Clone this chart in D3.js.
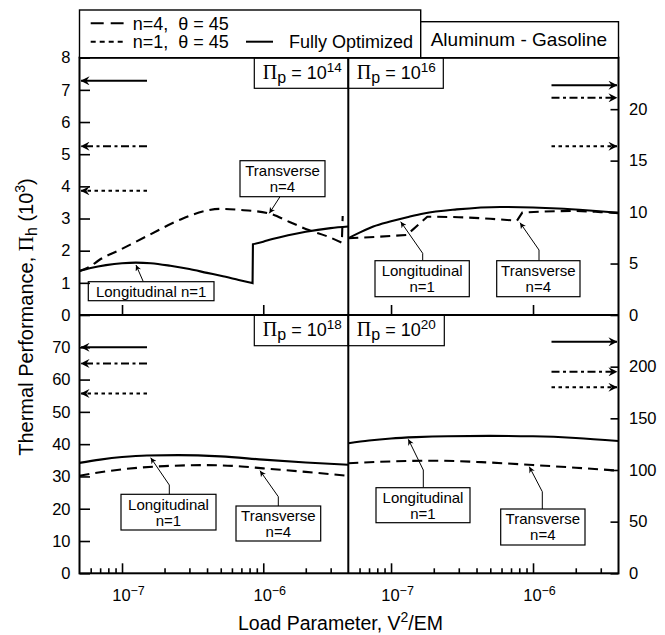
<!DOCTYPE html>
<html lang="en">
<head>
  <meta charset="UTF-8" />
  <title>Aluminum - Gasoline thermal performance</title>
  <script src="https://d3js.org/d3.v7.min.js"></script>
  <style>
    body { margin: 0; background: #fff; }
    svg { font-family: 'Liberation Sans', Arial, Helvetica, sans-serif; fill: #000; }
    .tick text { font-size: 16.5px; }
    .tick line { stroke: #000; stroke-width: 1.6; }
    .domain { display: none; }
    .frame { fill: none; stroke: #000; stroke-width: 2; }
    .box { fill: #fff; stroke: #000; stroke-width: 1.2; }
    .curve { fill: none; stroke: #000; stroke-width: 2.1; }
    .serif { font-family: 'Liberation Serif', 'DejaVu Serif', serif; }
  </style>
</head>
<body>
  <svg id="chart" width="665" height="635"></svg>

  <script>
    // ---- data ----
    const xDomain = [5e-8, 4e-6];
    const xMajorTicks = [1e-7, 1e-6];
    const xMinorTicks = [6e-8, 7e-8, 8e-8, 9e-8, 2e-7, 3e-7, 4e-7, 5e-7, 6e-7, 7e-7, 8e-7, 9e-7, 2e-6, 3e-6];

    // Pi_p = 10^14 (left scale 0-8)
    const tlSolid = [
      [[5e-8, 1.37], [6e-8, 1.46], [7.7e-8, 1.55], [1e-7, 1.61], [1.25e-7, 1.63], [1.6e-7, 1.61],
       [2.2e-7, 1.53], [3e-7, 1.43], [4e-7, 1.31], [5e-7, 1.22], [6.7e-7, 1.09], [8.4e-7, 0.99]],
      [[8.45e-7, 2.2], [1e-6, 2.28], [1.16e-6, 2.36], [1.5e-6, 2.48], [2e-6, 2.59], [3e-6, 2.7], [4e-6, 2.75]]
    ];
    const tlDashed = [
      [[5e-8, 1.37], [5.9e-8, 1.5], [6.9e-8, 1.71], [9.6e-8, 2.02], [1.56e-7, 2.49], [2.54e-7, 2.95],
       [3.9e-7, 3.24], [5e-7, 3.3], [6.7e-7, 3.27], [1.1e-6, 3.16], [1.52e-6, 2.9], [2.1e-6, 2.64],
       [2.9e-6, 2.43], [3.6e-6, 2.25]],
      [[3.65e-6, 3.08]]
    ];
    const tlArrows = [7.28, 5.25, 3.86];

    // Pi_p = 10^16 (right scale 0-25)
    const trSolid = [
      [[5e-8, 7.45], [6e-8, 8.0], [7.5e-8, 8.6], [1e-7, 9.1], [1.3e-7, 9.5], [1.7e-7, 9.87],
       [2.9e-7, 10.26], [5.9e-7, 10.5], [1e-6, 10.45], [1.5e-6, 10.35], [2.5e-6, 10.15], [4e-6, 9.93]]
    ];
    const trDashed = [
      [[5e-8, 7.45], [8e-8, 7.6], [1.29e-7, 7.77]],
      [[1.8e-7, 9.55], [3e-7, 9.5], [5e-7, 9.35], [7.7e-7, 9.16]],
      [[8.4e-7, 9.95], [1.2e-6, 10.05], [2e-6, 10.1], [3e-6, 10.0], [4e-6, 9.9]]
    ];
    const trArrows = [22.33, 21.1, 16.4];

    // Pi_p = 10^18 (left scale 0-80)
    const blSolid = [
      [[5e-8, 34.2], [7e-8, 35.2], [1e-7, 36.0], [1.5e-7, 36.5], [2.5e-7, 36.6], [5e-7, 36.2],
       [1e-6, 35.2], [2e-6, 34.3], [4e-6, 33.6]]
    ];
    const blDashed = [
      [[5e-8, 30.2], [7e-8, 31.3], [1e-7, 32.2], [2e-7, 33.2], [4e-7, 33.5], [7e-7, 33.1],
       [1e-6, 32.5], [2e-6, 31.4], [4e-6, 30.2]]
    ];
    const blArrows = [70, 65, 55.7];

    // Pi_p = 10^20 (right scale 0-250)
    const brSolid = [
      [[5e-8, 125.8], [7e-8, 128.5], [1e-7, 130.5], [1.5e-7, 131.8], [2.5e-7, 132.7], [5e-7, 133],
       [1e-6, 132.6], [2e-6, 131], [4e-6, 128]]
    ];
    const brDashed = [
      [[5e-8, 106.5], [1e-7, 108.3], [2e-7, 109], [4e-7, 107.8], [1e-6, 104.8], [2e-6, 102.2], [4e-6, 99.3]]
    ];
    const brArrows = [224, 195, 180];

    const tlTicks = [0, 1, 2, 3, 4, 5, 6, 7, 8];
    const trTicks = [0, 5, 10, 15, 20];
    const blTicks = [0, 10, 20, 30, 40, 50, 60, 70];
    const brTicks = [0, 50, 100, 150, 200];

    // ---- layout ----
    const L = 79.5, M = 348.3, R = 618.5, T = 57.7, MY = 315, B = 573.3;
    const svg = d3.select("#chart");

    const xL = d3.scaleLog().domain(xDomain).range([L, M]);
    const xR = d3.scaleLog().domain(xDomain).range([M, R]);

    const panels = [
      { id: "tl", x: xL, y: d3.scaleLinear().domain([0, 8]).range([MY, T]), top: T, bottom: MY,
        side: "left", ticks: tlTicks, solid: tlSolid, dashed: tlDashed, arrows: tlArrows, pi: "14",
        piBox: [254.3, T, 94, 30.6],
        notes: [
          { lines: ["Transverse", "n=4"], box: [240, 160.7, 85, 36], path: [[280, 196.7], [269.3, 213.3]] },
          { lines: ["Longitudinal n=1"], box: [88.3, 281.7, 125.7, 19], path: [[143.3, 281.7], [136, 265]] }
        ] },
      { id: "tr", x: xR, y: d3.scaleLinear().domain([0, 25]).range([MY, T]), top: T, bottom: MY,
        side: "right", ticks: trTicks, solid: trSolid, dashed: trDashed, arrows: trArrows, pi: "16",
        piBox: [M, T, 95, 30.6],
        notes: [
          { lines: ["Longitudinal", "n=1"], box: [375, 260.7, 94.3, 36], path: [[422.7, 260.7], [422.7, 253.3], [400.7, 221.7]] },
          { lines: ["Transverse", "n=4"], box: [496.7, 260.7, 83.3, 36], path: [[539, 260.7], [539, 250], [520, 222.7]] }
        ] },
      { id: "bl", x: xL, y: d3.scaleLinear().domain([0, 80]).range([B, MY]), top: MY, bottom: B,
        side: "left", ticks: blTicks, solid: blSolid, dashed: blDashed, arrows: blArrows, pi: "18",
        piBox: [254.3, MY, 94, 30.7],
        notes: [
          { lines: ["Longitudinal", "n=1"], box: [121, 494.3, 95, 35.7], path: [[169.3, 494.3], [169.3, 485], [150.7, 457.7]] },
          { lines: ["Transverse", "n=4"], box: [236, 506, 84.7, 35], path: [[278.3, 506], [278.3, 496.7], [260, 470.7]] }
        ] },
      { id: "br", x: xR, y: d3.scaleLinear().domain([0, 250]).range([B, MY]), top: MY, bottom: B,
        side: "right", ticks: brTicks, solid: brSolid, dashed: brDashed, arrows: brArrows, pi: "20",
        piBox: [M, MY, 96, 30.7],
        notes: [
          { lines: ["Longitudinal", "n=1"], box: [376, 487.7, 94, 35], path: [[423.3, 487.7], [423.3, 470], [408.3, 439.3]] },
          { lines: ["Transverse", "n=4"], box: [500.7, 509, 84.3, 36], path: [[542.3, 509], [542.3, 491.7], [529.3, 466.7]] }
        ] }
    ];

    const defs = svg.append("defs");
    defs.append("marker").attr("id", "head").attr("viewBox", "0 0 10 10")
        .attr("refX", 9.5).attr("refY", 5).attr("markerWidth", 12).attr("markerHeight", 9)
        .attr("markerUnits", "userSpaceOnUse").attr("orient", "auto")
      .append("path").attr("d", "M0,0 L10,5 L0,10 L3.5,5 Z").attr("fill", "#000");
    defs.append("marker").attr("id", "small").attr("viewBox", "0 0 10 10")
        .attr("refX", 10).attr("refY", 5).attr("markerWidth", 7).attr("markerHeight", 6)
        .attr("markerUnits", "userSpaceOnUse").attr("orient", "auto")
      .append("path").attr("d", "M0,0 L10,5 L0,10 L3,5 Z").attr("fill", "#000");

    function segPath(segs, x, y) {
      const smooth = d3.line().x(d => x(d[0])).y(d => y(d[1])).curve(d3.curveMonotoneX);
      return segs.map((s, i) => {
        const p = s.length > 1 ? smooth(s) : `M${x(s[0][0])},${y(s[0][1])}`;
        return i ? "L" + p.slice(1) : p;
      }).join("");
    }

    const arrowDash = ["none", "8,3.5,3,3.5", "3.5,3.5"];

    panels.forEach(p => {
      const [x0, x1] = p.x.range();
      const g = svg.append("g");
      defs.append("clipPath").attr("id", "clip-" + p.id)
        .append("rect").attr("x", x0).attr("y", p.top).attr("width", x1 - x0).attr("height", p.bottom - p.top);
      const plot = g.append("g").attr("clip-path", `url(#clip-${p.id})`);

      plot.append("path").attr("class", "curve").attr("d", segPath(p.dashed, p.x, p.y))
          .attr("stroke-dasharray", "10,6");
      plot.append("path").attr("class", "curve").attr("d", segPath(p.solid, p.x, p.y));

      // limit arrows
      p.arrows.forEach((v, i) => {
        const from = p.side === "left" ? x0 + 67.5 : x1 - 67;
        const to = p.side === "left" ? x0 + 1.5 : x1 - 1.5;
        g.append("line").attr("x1", from).attr("x2", to)
          .attr("y1", p.y(v)).attr("y2", p.y(v))
          .attr("stroke", "#000").attr("stroke-width", 2)
          .attr("stroke-dasharray", arrowDash[i])
          .attr("marker-end", "url(#head)");
      });

      // y axis
      const yAxis = p.side === "left"
        ? d3.axisLeft(p.y).tickValues(p.ticks).tickSize(-10.5).tickPadding(9)
        : d3.axisRight(p.y).tickValues(p.ticks).tickSize(-8).tickPadding(10.5);
      svg.append("g").attr("transform", `translate(${p.side === "left" ? L : R},0)`).call(yAxis);

      // x ticks
      const bottomPanel = p.bottom === B;
      const major = d3.axisBottom(p.x).tickValues(xMajorTicks).tickSize(-10).tickPadding(15.5)
        .tickFormat(d => bottomPanel ? d : "");
      const ax = svg.append("g").attr("transform", `translate(0,${p.bottom})`).call(major);
      if (bottomPanel) {
        ax.selectAll(".tick text").each(function(d) {
          const t = d3.select(this).text(null).attr("dx", 6);
          t.append("tspan").text("10");
          t.append("tspan").attr("dy", "-0.45em").attr("font-size", "12.5px")
            .text("\u2212" + Math.round(-Math.log10(d)));
        });
        svg.append("g").attr("transform", `translate(0,${p.bottom})`)
          .call(d3.axisBottom(p.x).tickValues(xMinorTicks).tickSize(-5).tickFormat(""));
      }

      // annotation boxes
      p.notes.forEach(n => {
        g.append("path").attr("d", d3.line()(n.path)).attr("fill", "none")
          .attr("stroke", "#000").attr("stroke-width", 1).attr("marker-end", "url(#small)");
        g.append("rect").attr("class", "box")
          .attr("x", n.box[0]).attr("y", n.box[1]).attr("width", n.box[2]).attr("height", n.box[3]);
        const cy = n.box[1] + n.box[3] / 2;
        n.lines.forEach((s, i) => {
          g.append("text").attr("x", n.box[0] + n.box[2] / 2)
            .attr("y", cy + (i - (n.lines.length - 1) / 2) * 16)
            .attr("dy", "0.36em").attr("text-anchor", "middle").attr("font-size", 15).text(s);
        });
      });

      // Pi_p label
      const [bx, by, bw, bh] = p.piBox;
      g.append("rect").attr("class", "box").attr("x", bx).attr("y", by).attr("width", bw).attr("height", bh);
      const pt = g.append("text").attr("x", bx + 8.5).attr("y", by + 21).attr("font-size", 18);
      pt.append("tspan").attr("class", "serif").attr("font-size", 20).text("\u03A0");
      pt.append("tspan").attr("dy", 4).attr("font-size", 16).text("p");
      pt.append("tspan").attr("dy", -4).text(" = 10");
      pt.append("tspan").attr("dy", -7).attr("font-size", 13.5).text(p.pi);
    });

    // frame
    svg.append("rect").attr("class", "frame").attr("x", L).attr("y", T).attr("width", R - L).attr("height", B - T);
    svg.append("line").attr("class", "frame").attr("x1", M).attr("x2", M).attr("y1", T).attr("y2", B);
    svg.append("line").attr("class", "frame").attr("x1", L).attr("x2", R).attr("y1", MY).attr("y2", MY);

    // legend
    const lg = svg.append("g");
    lg.append("rect").attr("x", L).attr("y", 10).attr("width", 420.7 - L).attr("height", T - 10)
      .attr("fill", "#fff").attr("stroke", "#000").attr("stroke-width", 1.4);
    lg.append("rect").attr("x", 420.7).attr("y", 21.7).attr("width", R - 420.7).attr("height", T - 21.7)
      .attr("fill", "#fff").attr("stroke", "#000").attr("stroke-width", 1.4);
    const legendRows = [
      { y: 23.3, dash: "13,7", x1: 90.7, x2: 123.6, label: "n=4,  \u03B8 = 45", tx: 132.7 },
      { y: 41.7, dash: "5,4", x1: 90.7, x2: 123.6, label: "n=1,  \u03B8 = 45", tx: 132.7 },
      { y: 41.7, dash: "none", x1: 246, x2: 273, label: "Fully Optimized", tx: 289 }
    ];
    legendRows.forEach(r => {
      lg.append("line").attr("x1", r.x1).attr("x2", r.x2).attr("y1", r.y).attr("y2", r.y)
        .attr("stroke", "#000").attr("stroke-width", 2).attr("stroke-dasharray", r.dash);
      lg.append("text").attr("x", r.tx).attr("y", r.y).attr("dy", "0.36em")
        .attr("font-size", 18).style("white-space", "pre").text(r.label);
    });
    lg.append("text").attr("x", 430.7).attr("y", 39.5).attr("dy", "0.36em")
      .attr("font-size", 19).text("Aluminum - Gasoline");

    // axis titles
    const yt = svg.append("text").attr("transform", "translate(33,317) rotate(-90)")
      .attr("text-anchor", "middle").attr("font-size", 20);
    yt.append("tspan").text("Thermal Performance, ");
    yt.append("tspan").attr("class", "serif").attr("font-size", 21).text("\u03A0");
    yt.append("tspan").attr("dy", 4).attr("font-size", 16).text("h");
    yt.append("tspan").attr("dy", -4).text(" (10");
    yt.append("tspan").attr("dy", -8).attr("font-size", 14).text("3");
    yt.append("tspan").attr("dy", 8).text(")");

    const xt = svg.append("text").attr("x", 340.5).attr("y", 630)
      .attr("text-anchor", "middle").attr("font-size", 19.5);
    xt.append("tspan").text("Load Parameter, V");
    xt.append("tspan").attr("dy", -8).attr("font-size", 14).text("2");
    xt.append("tspan").attr("dy", 8).text("/EM");
  </script>
</body>
</html>
